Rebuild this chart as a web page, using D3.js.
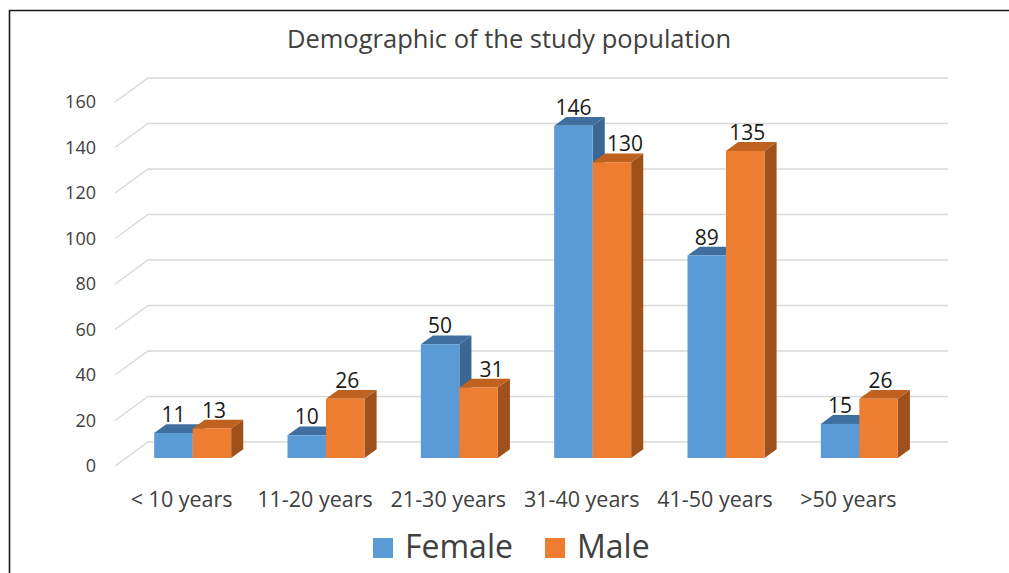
<!DOCTYPE html>
<html>
<head>
<meta charset="utf-8">
<script src="https://cdn.jsdelivr.net/npm/d3@7"></script>
<style>
  body { margin: 0; background: #fff; }
  svg { display: block; font-family: 'Open Sans', sans-serif; }
</style>
</head>
<body>
<svg id="chart"></svg>
<script>
const width = 1009
const height = 573

// data
const ageGroups = ['< 10 years', '11-20 years', '21-30 years', '31-40 years', '41-50 years', '>50 years']
const femaleCounts = [11, 10, 50, 146, 89, 15]
const maleCounts = [13, 26, 31, 130, 135, 26]
const seriesNames = ['Female', 'Male']
const yTicks = [0, 20, 40, 60, 80, 100, 120, 140, 160]

const svg = d3.select('#chart').attr('width', width).attr('height', height)

// --------------------------------------------------------------
// frame
svg.append('path')
  .attr('d', 'M9.5,573 L9.5,10.5 L1009,10.5')
  .attr('fill', 'none')
  .attr('stroke', '#1a1a1a')
  .attr('stroke-width', 1.6)

svg.append('text')
  .attr('x', 509)
  .attr('y', 48)
  .attr('text-anchor', 'middle')
  .attr('font-size', 25.5)
  .attr('fill', '#404040')
  .text('Demographic of the study population')

// --------------------------------------------------------------
// 3D helpers: depth z in [0,1] shifts up and right
const depthX = 33
const depthY = -24

const x = d3.scaleBand().domain(ageGroups).range([115, 915])
const y = d3.scaleLinear().domain([0, 160]).range([466, 102])

const px = (xx, z) => xx + z * depthX
const py = (yy, z) => yy + z * depthY

// --------------------------------------------------------------
// grid: side wall diagonals + back wall lines
const grid = svg.append('g').attr('stroke', '#d9d9d9').attr('stroke-width', 1.4).attr('fill', 'none')

grid.selectAll('path')
  .data(yTicks)
  .join('path')
  .attr('d', (d) => {
    const y0 = y(d)
    return `M${px(115, 0)},${py(y0, 0)} L${px(115, 1)},${py(y0, 1)} L${px(915, 1)},${py(y0, 1)}`
  })

svg.append('g')
  .selectAll('text')
  .data(yTicks)
  .join('text')
  .attr('x', 96)
  .attr('y', (d) => y(d))
  .attr('dy', '0.36em')
  .attr('text-anchor', 'end')
  .attr('font-size', 18)
  .attr('fill', '#404040')
  .text((d) => d)

// --------------------------------------------------------------
// bars
const zFront = 1 / 3
const zBack = 0.70
const barW = 38.5

const colors = [
  { front: '#5b9bd5', top: '#3f6f9f', side: '#3a6794' },
  { front: '#ed7d31', top: '#c0621f', side: '#a0501a' },
]

const bars = []
ageGroups.forEach((g, i) => {
  const c = x(g) + x.bandwidth() / 2
  bars.push({ group: g, s: 0, value: femaleCounts[i], x0: c - barW, taller: false })
  // male label gets nudged right when the female bar next to it is taller
  bars.push({ group: g, s: 1, value: maleCounts[i], x0: c, taller: femaleCounts[i] > maleCounts[i] })
})

const barG = svg.append('g')

bars.forEach((b) => {
  const x0 = px(b.x0, zFront)
  const x1 = px(b.x0 + barW, zFront)
  const yTop = py(y(b.value), zFront)
  const yBot = py(y(0), zFront)
  const dx = (zBack - zFront) * depthX
  const dy = (zBack - zFront) * depthY
  const g = barG.append('g')

  g.append('path')
    .attr('d', `M${x1},${yTop} L${x1 + dx},${yTop + dy} L${x1 + dx},${yBot + dy} L${x1},${yBot} Z`)
    .attr('fill', colors[b.s].side)
  g.append('path')
    .attr('d', `M${x0},${yTop} L${x0 + dx},${yTop + dy} L${x1 + dx},${yTop + dy} L${x1},${yTop} Z`)
    .attr('fill', colors[b.s].top)
  g.append('rect')
    .attr('x', x0)
    .attr('y', yTop)
    .attr('width', x1 - x0)
    .attr('height', yBot - yTop)
    .attr('fill', colors[b.s].front)

  b.lx = (x0 + x1) / 2 + (b.s === 1 ? 2 : 0) + (b.taller ? 11 : 0)
  b.ly = yTop + dy - 2
})

svg.append('g')
  .selectAll('text')
  .data(bars)
  .join('text')
  .attr('x', (d) => d.lx)
  .attr('y', (d) => d.ly)
  .attr('text-anchor', 'middle')
  .attr('font-size', 21)
  .attr('fill', '#1a1a1a')
  .text((d) => d.value)

// --------------------------------------------------------------
// category labels
svg.append('g')
  .selectAll('text')
  .data(ageGroups)
  .join('text')
  .attr('x', (d) => x(d) + x.bandwidth() / 2)
  .attr('y', 507)
  .attr('text-anchor', 'middle')
  .attr('font-size', 21.5)
  .attr('fill', '#404040')
  .text((d) => d)

// --------------------------------------------------------------
// legend
const legendX = [373, 545]
const legend = svg.append('g')
  .selectAll('g')
  .data(seriesNames)
  .join('g')
  .attr('transform', (d, i) => `translate(${legendX[i]},538)`)

legend.append('rect')
  .attr('width', 20)
  .attr('height', 20)
  .attr('fill', (d, i) => colors[i].front)

legend.append('text')
  .attr('x', 32)
  .attr('y', 20)
  .attr('font-size', 32)
  .attr('fill', '#404040')
  .text((d) => d)
</script>
</body>
</html>
